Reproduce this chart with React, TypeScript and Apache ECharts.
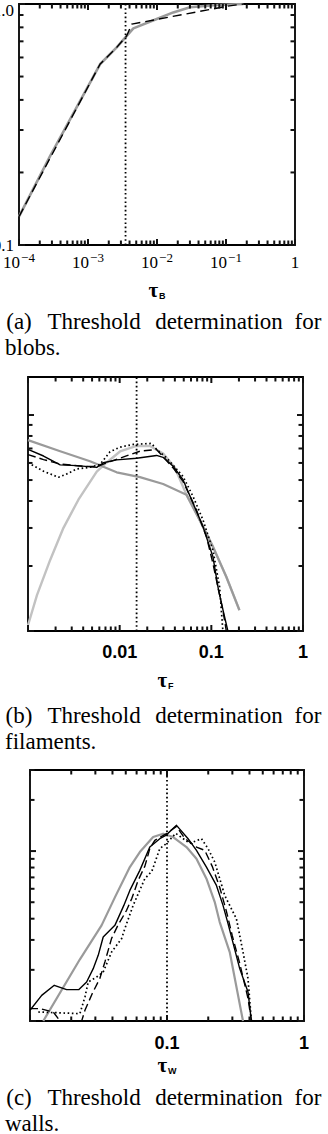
import { useEffect, useRef } from 'react';
import * as echarts from 'echarts';

const SERIF = 'Liberation Serif, Times New Roman, serif';
const SANS = 'Liberation Sans, Arial, sans-serif';

// ---------- Panel (a): blobs ----------
const A_X_TICKS = [1e-4, 1e-3, 1e-2, 1e-1, 1];
const A_Y_TICKS = [0.1, 1];
const A_Y_MINOR = [0.2, 0.3, 0.4, 0.5, 0.6, 0.7, 0.8, 0.9];
const A_THRESHOLD = 0.0035;
const A_GRAY = [
  [1e-4, 0.1312], [2.81e-4, 0.2333], [0.001493, 0.5623], [0.002606, 0.6607], [0.00364, 0.738],
  [0.00454, 0.792], [0.00991, 0.866], [0.0172, 0.923], [0.0301, 0.969], [0.0733, 0.99], [0.178, 1.0],
];
const A_DASHED = [
  [1e-4, 0.1312], [0.001493, 0.5623], [0.002606, 0.6607], [0.00364, 0.738], [0.0043, 0.825],
  [0.102, 0.978], [0.178, 1.0],
];

// ---------- Panel (b): filaments ----------
const B_X_TICKS = [0.001, 0.01, 0.1, 1];
const B_X_LABELS = [0.01, 0.1, 1];
const B_Y_TICKS = [1, 10];
const B_Y_MINOR = [2, 3, 4, 5, 6, 7, 8, 9];
const B_THRESHOLD = 0.0153;
const B_GRAY_DARK = [
  [0.001, 7.65], [0.002244, 6.8], [0.00475, 6.11], [0.00927, 5.43], [0.01663, 5.16], [0.0298, 4.79],
  [0.0535, 4.28], [0.0745, 3.27], [0.104, 2.459], [0.1456, 1.783], [0.2025, 1.248],
];
const B_GRAY_LIGHT = [
  [0.001, 1.063], [0.001253, 1.466], [0.001746, 2.133], [0.002438, 3.004], [0.003548, 4.055],
  [0.005623, 5.47], [0.00723, 6.03], [0.01008, 6.78], [0.01531, 7.19], [0.02134, 7.19], [0.0298, 6.63],
  [0.0399, 5.71], [0.0535, 4.28], [0.0745, 3.27], [0.104, 2.459], [0.1456, 1.783], [0.2025, 1.248],
];
const B_SOLID = [
  [0.001, 6.93], [0.001478, 6.46], [0.002244, 5.88], [0.003412, 5.83], [0.005623, 5.72], [0.006637, 6.01],
  [0.00927, 6.2], [0.01531, 6.31], [0.02524, 6.5], [0.0298, 6.37], [0.0383, 5.79], [0.0491, 5.02],
  [0.0631, 3.91], [0.081, 3.045], [0.104, 2.21], [0.1198, 1.547], [0.1357, 1.222], [0.1515, 1.0],
];
const B_DASHED = [
  [0.001, 6.56], [0.001478, 6.22], [0.002244, 5.93], [0.00402, 5.79], [0.005623, 5.77], [0.00784, 6.09],
  [0.01142, 6.43], [0.01663, 6.8], [0.02524, 6.93], [0.0298, 6.4], [0.0383, 5.69], [0.0491, 4.93],
  [0.0687, 3.64], [0.0883, 2.74], [0.104, 2.06], [0.1177, 1.602], [0.1337, 1.248], [0.1456, 1.0],
];
const B_DOTTED = [
  [0.001, 6.01], [0.001478, 5.49], [0.00215, 5.15], [0.002655, 5.34], [0.003412, 5.63], [0.00475, 5.73],
  [0.0061, 5.9], [0.00784, 6.76], [0.01008, 7.1], [0.01405, 7.31], [0.02228, 7.39], [0.02524, 6.93],
  [0.03243, 6.34], [0.0491, 5.2], [0.0631, 4.2], [0.081, 3.27], [0.104, 2.373], [0.123, 1.602], [0.1337, 1.0],
];

// ---------- Panel (c): walls ----------
const C_X_TICKS = [0.01, 0.1, 1];
const C_X_LABELS = [0.1, 1];
const C_Y_TICKS = [1, 10];
const C_Y_MINOR = [2, 3, 4, 5, 6, 7, 8, 9, 20, 30];
const C_THRESHOLD = 0.1;
const C_GRAY = [
  [0.0125, 1.0], [0.02314, 2.307], [0.0333, 3.655], [0.04165, 5.34], [0.05356, 8.05], [0.06333, 9.87],
  [0.0792, 12.09], [0.0937, 12.66], [0.1108, 12.09], [0.1387, 10.56], [0.1641, 9.02], [0.1941, 6.88],
  [0.2231, 5.01], [0.2425, 3.82], [0.287, 2.546], [0.3587, 1.0],
];
const C_SOLID = [
  [0.01, 1.156], [0.01217, 1.416], [0.01504, 1.622], [0.01851, 1.53], [0.02276, 1.53], [0.0259, 1.696],
  [0.02893, 2.033], [0.03147, 2.435], [0.03422, 3.12], [0.04165, 3.655], [0.04842, 4.79], [0.05356, 5.87],
  [0.06333, 7.7], [0.0749, 10.56], [0.0886, 11.83], [0.098, 12.37], [0.1173, 14.17], [0.1425, 11.83],
  [0.1641, 10.1], [0.1941, 8.05], [0.2295, 6.28], [0.2564, 4.79], [0.2789, 3.74], [0.3394, 2.033],
  [0.3902, 1.481], [0.413, 1.0],
];
const C_DASHED = [
  [0.01, 1.183], [0.01183, 1.183], [0.01478, 1.13], [0.01608, 1.033], [0.0177, 0.85], [0.02239, 0.85],
  [0.02518, 1.156], [0.02854, 1.456], [0.03237, 1.783], [0.03521, 2.224], [0.0394, 3.065], [0.04381, 3.655],
  [0.05069, 4.48], [0.05539, 5.27], [0.06158, 6.72], [0.06887, 8.13], [0.0749, 10.33], [0.08149, 11.56],
  [0.0992, 12.66], [0.1173, 13.98], [0.1348, 11.88], [0.1641, 10.56], [0.1886, 10.1], [0.2139, 8.13],
  [0.2425, 6.12], [0.2715, 4.42], [0.2991, 3.19], [0.3394, 2.185], [0.3902, 1.36], [0.413, 1.0],
];
const C_DOTTED = [
  [0.01149, 1.13], [0.02314, 1.105], [0.02518, 1.384], [0.0266, 1.696], [0.03063, 1.815], [0.03422, 1.942],
  [0.0394, 2.546], [0.04661, 3.053], [0.04926, 3.5], [0.0566, 4.79], [0.06887, 6.88], [0.07747, 7.6],
  [0.0886, 10.33], [0.0992, 11.1], [0.1159, 12.71], [0.1466, 11.1], [0.1785, 11.83], [0.1994, 10.33],
  [0.2231, 8.62], [0.2425, 6.88], [0.2638, 5.49], [0.287, 4.79], [0.321, 4.0], [0.3587, 2.546],
  [0.3902, 1.776], [0.413, 1.0],
];

// ---------- Captions ----------
const CAPTION_WORDS = [
  ['(a)', 'Threshold', 'determination', 'for'],
  ['(b)', 'Threshold', 'determination', 'for'],
  ['(c)', 'Threshold', 'determination', 'for'],
];
const CAPTION_SECOND = ['blobs.', 'filaments.', 'walls.'];

function decadeMinors(majors: number[]) {
  const out: number[] = [];
  for (let i = 0; i < majors.length - 1; i++) {
    for (let k = 2; k <= 9; k++) out.push(+(majors[i] * k).toPrecision(6));
  }
  return out;
}

const GRAY_DARK = '#9a9a9a';
const GRAY_LIGHT = '#c2c2c2';
const DOT = [1.6, 2.6];

type Line = { data: number[][]; color: string; width: number; dash?: number[] };

type Panel = {
  grid: { left: number; top: number; width: number; height: number };
  xMin: number; xMax: number; yMin: number; yMax: number;
  xTicks: number[]; xLabels: number[]; xMinor: number[];
  yTicks: number[]; yMinor: number[];
  xFormatter: (v: number) => string;
  xLabelStyle: any;
  xRich: any;
  xLabelMargin: number;
  yLabels: boolean;
  sub: string;
  nameGap: number;
  threshold: number;
  lines: Line[];
};

const TAU_RICH = {
  t: { fontFamily: SERIF, fontSize: 21, fontWeight: 'bold', color: '#000', lineHeight: 20, verticalAlign: 'middle' },
  s: { fontFamily: SANS, fontSize: 9, fontWeight: 'bold', color: '#000', lineHeight: 10, verticalAlign: 'bottom', padding: [0, 0, 0, 1] },
};

const PANELS: Panel[] = [
  {
    grid: { left: 19, top: 4, width: 276, height: 241 },
    xMin: 1e-4, xMax: 1, yMin: 0.1, yMax: 1,
    xTicks: A_X_TICKS, xLabels: A_X_TICKS, xMinor: decadeMinors(A_X_TICKS),
    yTicks: A_Y_TICKS, yMinor: A_Y_MINOR,
    xFormatter: (v: number) => {
      const e = Math.round(Math.log10(v));
      return e === 0 ? '{n|1}' : `{n|10}{e|\u2212${-e}}`;
    },
    xLabelStyle: { fontFamily: SERIF, fontSize: 17 },
    xRich: {
      n: { fontFamily: SERIF, fontSize: 17, color: '#000', lineHeight: 22 },
      e: { fontFamily: SERIF, fontSize: 13, color: '#000', lineHeight: 13, verticalAlign: 'top', padding: [0, 0, 0, 1] },
    },
    xLabelMargin: 17,
    yLabels: true,
    sub: 'B',
    nameGap: 45,
    threshold: A_THRESHOLD,
    lines: [
      { data: A_GRAY, color: GRAY_DARK, width: 2.6 },
      { data: A_DASHED, color: '#000', width: 1.4, dash: [9, 5] },
    ],
  },
  {
    grid: { left: 28, top: 377, width: 275, height: 254 },
    xMin: 0.001, xMax: 1, yMin: 1, yMax: 15,
    xTicks: B_X_TICKS, xLabels: B_X_LABELS, xMinor: decadeMinors(B_X_TICKS),
    yTicks: B_Y_TICKS, yMinor: B_Y_MINOR,
    xFormatter: (v: number) => `{n|${v}}`,
    xLabelStyle: { fontFamily: SANS, fontSize: 18, fontWeight: 'bold' },
    xRich: { n: { fontFamily: SANS, fontSize: 18, fontWeight: 'bold', color: '#000' } },
    xLabelMargin: 21,
    yLabels: false,
    sub: 'F',
    nameGap: 49,
    threshold: B_THRESHOLD,
    lines: [
      { data: B_GRAY_LIGHT, color: GRAY_LIGHT, width: 2.4 },
      { data: B_GRAY_DARK, color: GRAY_DARK, width: 2.2 },
      { data: B_DOTTED, color: '#000', width: 1.7, dash: DOT },
      { data: B_DASHED, color: '#000', width: 1.4, dash: [8, 4] },
      { data: B_SOLID, color: '#000', width: 1.4 },
    ],
  },
  {
    grid: { left: 30, top: 770, width: 274, height: 251 },
    xMin: 0.01, xMax: 1, yMin: 1, yMax: 30,
    xTicks: C_X_TICKS, xLabels: C_X_LABELS, xMinor: decadeMinors(C_X_TICKS),
    yTicks: C_Y_TICKS, yMinor: C_Y_MINOR,
    xFormatter: (v: number) => `{n|${v}}`,
    xLabelStyle: { fontFamily: SANS, fontSize: 18, fontWeight: 'bold' },
    xRich: { n: { fontFamily: SANS, fontSize: 18, fontWeight: 'bold', color: '#000' } },
    xLabelMargin: 22,
    yLabels: false,
    sub: 'W',
    nameGap: 44,
    threshold: C_THRESHOLD,
    lines: [
      { data: C_GRAY, color: GRAY_DARK, width: 2.2 },
      { data: C_DOTTED, color: '#000', width: 1.7, dash: DOT },
      { data: C_DASHED, color: '#000', width: 1.4, dash: [8, 4] },
      { data: C_SOLID, color: '#000', width: 1.4 },
    ],
  },
];

function buildOption() {
  const grids: any[] = [];
  const xAxes: any[] = [];
  const yAxes: any[] = [];
  const series: any[] = [];
  const graphic: any[] = [];

  PANELS.forEach((p, gi) => {
    grids.push({
      ...p.grid, show: true, borderColor: '#000', borderWidth: 1.8, backgroundColor: 'transparent',
      containLabel: false, outerBoundsMode: 'none',
    });

    const xi = xAxes.length;
    xAxes.push({
      type: 'log', logBase: 10, gridIndex: gi, position: 'bottom', min: p.xMin, max: p.xMax,
      axisLine: { show: false }, splitLine: { show: false }, axisTick: { show: false },
      axisLabel: {
        show: true, customValues: p.xLabels, margin: p.xLabelMargin, verticalAlign: 'middle',
        formatter: p.xFormatter, rich: p.xRich, color: '#000', hideOverlap: false, ...p.xLabelStyle,
      },
      name: `{t|\u03c4}{s|${p.sub}}`,
      nameLocation: 'middle', nameGap: p.nameGap, nameMoveOverlap: false,
      nameTextStyle: { rich: TAU_RICH, verticalAlign: 'middle', color: '#000', fontFamily: SERIF, fontSize: 21 },
    });

    const yi = yAxes.length;
    yAxes.push({
      type: 'log', logBase: 10, gridIndex: gi, position: 'left', min: p.yMin, max: p.yMax,
      axisLine: { show: false }, splitLine: { show: false }, axisTick: { show: false },
      axisLabel: p.yLabels
        ? {
            show: true, customValues: p.yTicks, margin: 5, color: '#000', fontFamily: SERIF, fontSize: 17,
            hideOverlap: false,
            formatter: (v: number) => (v < 0.5 ? '{n|0.1}' : '{t|1.0}'),
            rich: {
              n: { fontFamily: SERIF, fontSize: 17, color: '#000' },
              t: { fontFamily: SERIF, fontSize: 17, color: '#000', padding: [12, 0, 0, 0] },
            },
          }
        : { show: false },
    });

    // Inward ticks on all four sides, major and minor (log decades), placed through the axes' scales.
    const tickData: number[][] = [
      ...p.xTicks.map((v) => [v, p.yMin, 1, 0]),
      ...p.xMinor.map((v) => [v, p.yMin, 0, 0]),
      ...p.yTicks.map((v) => [p.xMin, v, 1, 1]),
      ...p.yMinor.map((v) => [p.xMin, v, 0, 1]),
    ];
    series.push({
      type: 'custom', xAxisIndex: xi, yAxisIndex: yi, silent: true, clip: false, z: 20,
      data: tickData,
      encode: { x: 0, y: 1 },
      renderItem: (_params: any, api: any) => {
        const major = api.value(2) === 1;
        const isY = api.value(3) === 1;
        const len = major ? 6 : 4.5;
        const st = { stroke: '#111', lineWidth: 2 };
        if (!isY) {
          const v = api.value(0);
          const b = api.coord([v, p.yMin]);
          const t = api.coord([v, p.yMax]);
          return {
            type: 'group',
            children: [
              { type: 'line', shape: { x1: b[0], y1: b[1], x2: b[0], y2: b[1] - len }, style: st },
              { type: 'line', shape: { x1: t[0], y1: t[1], x2: t[0], y2: t[1] + len }, style: st },
            ],
          };
        }
        const v = api.value(1);
        const l = api.coord([p.xMin, v]);
        const r = api.coord([p.xMax, v]);
        return {
          type: 'group',
          children: [
            { type: 'line', shape: { x1: l[0], y1: l[1], x2: l[0] + len, y2: l[1] }, style: st },
            { type: 'line', shape: { x1: r[0], y1: r[1], x2: r[0] - len, y2: r[1] }, style: st },
          ],
        };
      },
    });

    p.lines.forEach((l, k) => {
      series.push({
        type: 'line', xAxisIndex: xi, yAxisIndex: yi, data: l.data, symbol: 'none', showSymbol: false,
        clip: true, silent: true, z: 2 + k,
        lineStyle: { color: l.color, width: l.width, type: l.dash || 'solid', cap: 'butt', join: 'round' },
      });
    });
    series.push({
      type: 'line', xAxisIndex: xi, yAxisIndex: yi, symbol: 'none', showSymbol: false, silent: true, z: 10,
      data: [[p.threshold, p.yMin], [p.threshold, p.yMax]],
      lineStyle: { color: '#000', width: 1.8, type: DOT, cap: 'butt' },
    });
  });

  const CAP_Y = [321, 715, 1097];
  const WORD_X = [19, 94, 219, 308];
  CAPTION_WORDS.forEach((words, ci) => {
    words.forEach((w, wi) => {
      graphic.push({
        type: 'text', x: WORD_X[wi], y: CAP_Y[ci], silent: true,
        style: { text: w, fontFamily: SERIF, fontSize: 23, fill: '#000', align: 'center', verticalAlign: 'middle' },
      });
    });
    graphic.push({
      type: 'text', x: 5, y: CAP_Y[ci] + 26, silent: true,
      style: { text: CAPTION_SECOND[ci], fontFamily: SERIF, fontSize: 23, fill: '#000', align: 'left', verticalAlign: 'middle' },
    });
  });

  return {
    animation: false,
    backgroundColor: '#fff',
    grid: grids,
    xAxis: xAxes,
    yAxis: yAxes,
    series,
    graphic,
  };
}

export default function App() {
  const ref = useRef<HTMLDivElement>(null);
  useEffect(() => {
    if (!ref.current) return;
    const chart = echarts.init(ref.current, null, { renderer: 'svg' });
    chart.setOption(buildOption() as any);
    return () => chart.dispose();
  }, []);
  return (
    <div
      ref={ref}
      style={{ position: 'absolute', left: 0, top: 0, width: 328, height: 1134, background: '#fff' }}
    />
  );
}
